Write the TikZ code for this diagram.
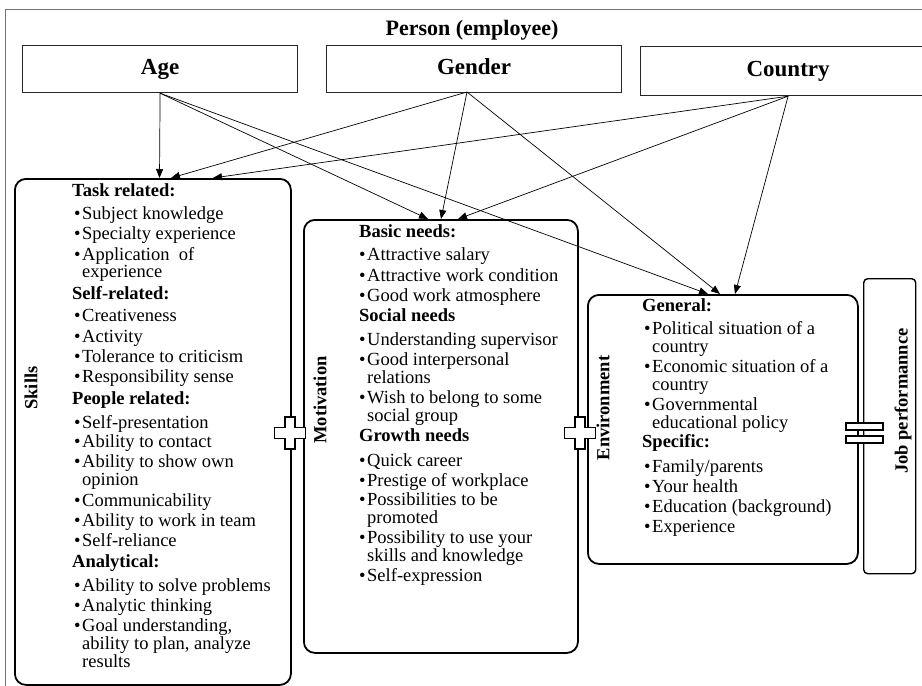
\documentclass[tikz,border=0pt]{standalone}
\usepackage{fontspec}
\setmainfont{Liberation Serif}
\usetikzlibrary{arrows.meta}
\newcommand{\mkhead}[4]{\node[hdtext] (#1) at (#2,#3) {#4};}
\newcommand{\mkbul}[4]{\node[txt] (#1) at (#2,#3) {\llap{\textbullet\kern1.5pt}#4};}
\newcommand{\mkcont}[4]{\node[txt] (#1) at (#2,#3) {#4};}
\begin{document}
\begin{tikzpicture}[x=1pt,y=-1pt,
  txt/.style={anchor=west, inner sep=0pt, text height=11pt, text depth=3pt, font=\fontsize{18.5}{18}\selectfont},
  hdtext/.style={txt, font=\fontsize{18.5}{18}\selectfont\bfseries},
  bigbox/.style={draw, line width=1.8pt, rounded corners=11pt, anchor=north west, inner sep=0pt},
  jobbox/.style={draw, line width=1.4pt, rounded corners=4pt, anchor=north west, inner sep=0pt},
  topbox/.style={draw=black!85, line width=1.2pt, anchor=north west, inner sep=0pt, text height=15pt, text depth=5pt, font=\fontsize{23}{25}\selectfont\bfseries},
  titletext/.style={inner sep=0pt, font=\fontsize{22}{24}\selectfont\bfseries},
  vlabel/.style={rotate=90, inner sep=0pt, font=\fontsize{18.5}{18}\selectfont\bfseries},
  arr/.style={-{Triangle[length=9pt,width=7pt]}, line width=0.7pt},
  markshape/.style={draw, fill=white, line width=1.3pt},
  frameline/.style={draw=black!55, line width=1pt}
]
\useasboundingbox (0,0) rectangle (922,686);
\clip (0,0) rectangle (922,686);
\fill[white] (0,0) rectangle (922,686);
\draw[frameline] (5,700) -- (5,9) -- (930,9);

% title and top boxes
\node[titletext] (person) at (472,30) {Person (employee)};
\node[topbox, minimum width=275pt, minimum height=47pt] (age) at (22,45) {Age};
\node[topbox, minimum width=295pt, minimum height=47pt] (gender) at (326,45) {Gender};
\node[topbox, minimum width=295pt, minimum height=49pt] (country) at (640,46) {Country};

% main boxes
\node[bigbox, minimum width=276pt, minimum height=506pt] (skills) at (14,178) {};
\node[bigbox, minimum width=274pt, minimum height=433pt] (motiv) at (303,219) {};
\node[bigbox, minimum width=270pt, minimum height=269pt] (envir) at (587,294) {};
\node[jobbox, minimum width=52pt, minimum height=295pt] (job) at (863,278) {};

% vertical labels
\node[vlabel] (lskills) at (31,388) {Skills};
\node[vlabel] (lmotiv) at (320,400) {Motivation};
\node[vlabel] (lenvir) at (603,408) {Environment};
\node[vlabel] (ljob) at (903,401) {Job performannce};

% arrow targets
\coordinate (tSkA) at (159.5,178);
\coordinate (tSkG) at (171,178);
\coordinate (tSkC) at (213,178);
\coordinate (tMoA) at (428,219);
\coordinate (tMoG) at (441,219);
\coordinate (tMoC) at (458,219);
\coordinate (tEnA) at (708,294);
\coordinate (tEnG) at (720,294);
\coordinate (tEnC) at (735,294);
\coordinate (sGen) at (467,92);

\draw[arr] (age.south) -- (tSkA);
\draw[arr] (age.south) -- (tMoA);
\draw[arr] (age.south) -- (tEnA);
\draw[arr] (sGen) -- (tSkG);
\draw[arr] (sGen) -- (tMoG);
\draw[arr] (sGen) -- (tEnG);
\draw[arr] (country.south) -- (tSkC);
\draw[arr] (country.south) -- (tMoC);
\draw[arr] (country.south) -- (tEnC);

% Skills content
\mkhead{s1}{72}{192}{Task related:}
\mkbul{s2}{82}{215}{Subject knowledge}
\mkbul{s3}{82}{235}{Specialty experience}
\mkbul{s4}{82}{256}{Application\ \ of}
\mkcont{s5}{82}{273}{experience}
\mkhead{s6}{72}{295}{Self-related:}
\mkbul{s7}{82}{317}{Creativeness}
\mkbul{s8}{82}{338}{Activity}
\mkbul{s9}{82}{358}{Tolerance to criticism}
\mkbul{s10}{82}{378}{Responsibility sense}
\mkhead{s11}{72}{400}{People related:}
\mkbul{s12}{82}{424}{Self-presentation}
\mkbul{s13}{82}{443}{Ability to contact}
\mkbul{s14}{82}{463}{Ability to show own}
\mkcont{s15}{82}{481}{opinion}
\mkbul{s16}{82}{502}{Communicability}
\mkbul{s17}{82}{522}{Ability to work in team}
\mkbul{s18}{82}{542}{Self-reliance}
\mkhead{s19}{72}{563}{Analytical:}
\mkbul{s20}{82}{587}{Ability to solve problems}
\mkbul{s21}{82}{607}{Analytic thinking}
\mkbul{s22}{82}{627}{Goal understanding,}
\mkcont{s23}{82}{645}{ability to plan, analyze}
\mkcont{s24}{82}{663}{results}

% Motivation content
\mkhead{m1}{359}{233}{Basic needs:}
\mkbul{m2}{367}{256}{Attractive salary}
\mkbul{m3}{367}{277}{Attractive work condition}
\mkbul{m4}{367}{297}{Good work atmosphere}
\mkhead{m5}{359}{317}{Social needs}
\mkbul{m6}{367}{341}{Understanding supervisor}
\mkbul{m7}{367}{361}{Good interpersonal}
\mkcont{m8}{367}{379}{relations}
\mkbul{m9}{367}{399}{Wish to belong to some}
\mkcont{m10}{367}{417}{social group}
\mkhead{m11}{359}{437}{Growth needs}
\mkbul{m12}{367}{462}{Quick career}
\mkbul{m13}{367}{482}{Prestige of workplace}
\mkbul{m14}{367}{501}{Possibilities to be}
\mkcont{m15}{367}{519}{promoted}
\mkbul{m16}{367}{539}{Possibility to use your}
\mkcont{m17}{367}{557}{skills and knowledge}
\mkbul{m18}{367}{577}{Self-expression}

% Environment content
\mkhead{e1}{642}{307}{General:}
\mkbul{e2}{652}{330}{Political situation of a}
\mkcont{e3}{652}{348}{country}
\mkbul{e4}{652}{368}{Economic situation of a}
\mkcont{e5}{652}{386}{country}
\mkbul{e6}{652}{406}{Governmental}
\mkcont{e7}{652}{424}{educational policy}
\mkhead{e8}{642}{443}{Specific:}
\mkbul{e9}{652}{468}{Family/parents}
\mkbul{e10}{652}{488}{Your health}
\mkbul{e11}{652}{508}{Education (background)}
\mkbul{e12}{652}{528}{Experience}

% plus signs
\draw[markshape, shift={(290,433)}] (-5,-16) -- (5,-16) -- (5,-5.5) -- (15.5,-5.5) -- (15.5,5.5) -- (5,5.5) -- (5,16) -- (-5,16) -- (-5,5.5) -- (-15.5,5.5) -- (-15.5,-5.5) -- (-5,-5.5) -- cycle;
\draw[markshape, shift={(580,433)}] (-5,-16) -- (5,-16) -- (5,-5.5) -- (15.5,-5.5) -- (15.5,5.5) -- (5,5.5) -- (5,16) -- (-5,16) -- (-5,5.5) -- (-15.5,5.5) -- (-15.5,-5.5) -- (-5,-5.5) -- cycle;
% equals sign
\draw[markshape] (846,423) rectangle (883,430);
\draw[markshape] (846,436) rectangle (883,443);
\end{tikzpicture}
\end{document}
